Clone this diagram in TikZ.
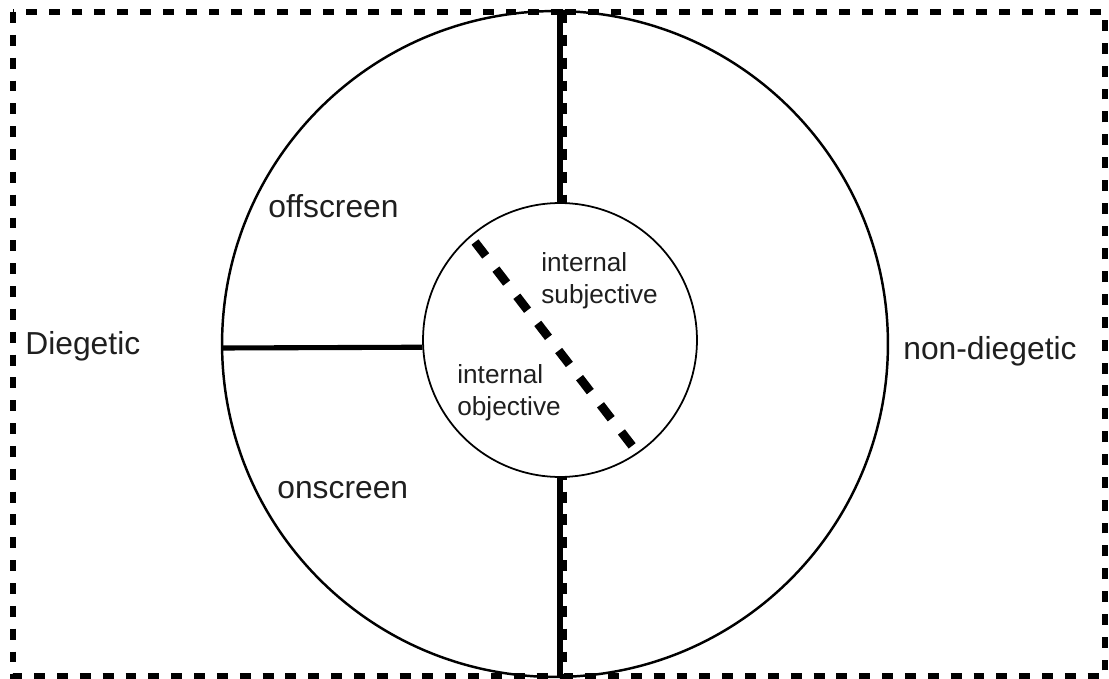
\documentclass[tikz,border=0pt]{standalone}
\usepackage{fontspec}
\setmainfont{Liberation Sans}
\definecolor{inkgray}{gray}{0.12}

\tikzset{
  frame/.style={line width=3pt, dash pattern=on 6.2pt off 6.8pt},
  ring/.style={line width=1.4pt},
  cut/.style={line width=2.9pt},
  split/.style={line width=5pt, dash pattern=on 10pt off 9.5pt},
  bigtxt/.style={font=\fontsize{18.1}{21.5}\selectfont, text=inkgray, inner sep=0pt, anchor=west},
  smalltxt/.style={font=\fontsize{14.9}{18.2}\selectfont, text=inkgray, inner sep=0pt, anchor=west, align=left}
}

\begin{document}
\begin{tikzpicture}[x=0.02cm,y=-0.02cm]
  \useasboundingbox (0,0) rectangle (1109,679);
  % the two halves
  \draw[frame] (13,12) rectangle (560,676);
  \draw[frame] (564,12) rectangle (1105,676);
  % outer and inner circles
  \coordinate (c) at (555,344);
  \draw[ring] (c) circle[radius=6.66cm];
  \node[draw, fill=white, circle, line width=1pt, minimum size=5.48cm, inner sep=0pt] (ic) at (560,340) {};
  \coordinate (top) at (560,11);
  \coordinate (bot) at (560,677);
  \coordinate (lft) at (222,348);
  \coordinate (sa) at (475,242);
  \coordinate (sb) at (633,447);
  \draw[cut] (top) -- (ic.north);
  \draw[cut] (ic.south) -- (bot);
  \draw[cut] (lft) -- (ic.183);
  \draw[split] (sa) -- (sb);
  % labels
  \node[bigtxt] (off) at (268,206) {offscreen};
  \node[bigtxt] (on) at (277,490) {onscreen};
  \node[bigtxt] (dieg) at (25,346) {Diegetic};
  \node[bigtxt] (ndieg) at (903,351) {non-diegetic};
  \node[smalltxt] (isub) at (541,281) {internal\\subjective};
  \node[smalltxt] (iobj) at (457,393) {internal\\objective};
\end{tikzpicture}
\end{document}
